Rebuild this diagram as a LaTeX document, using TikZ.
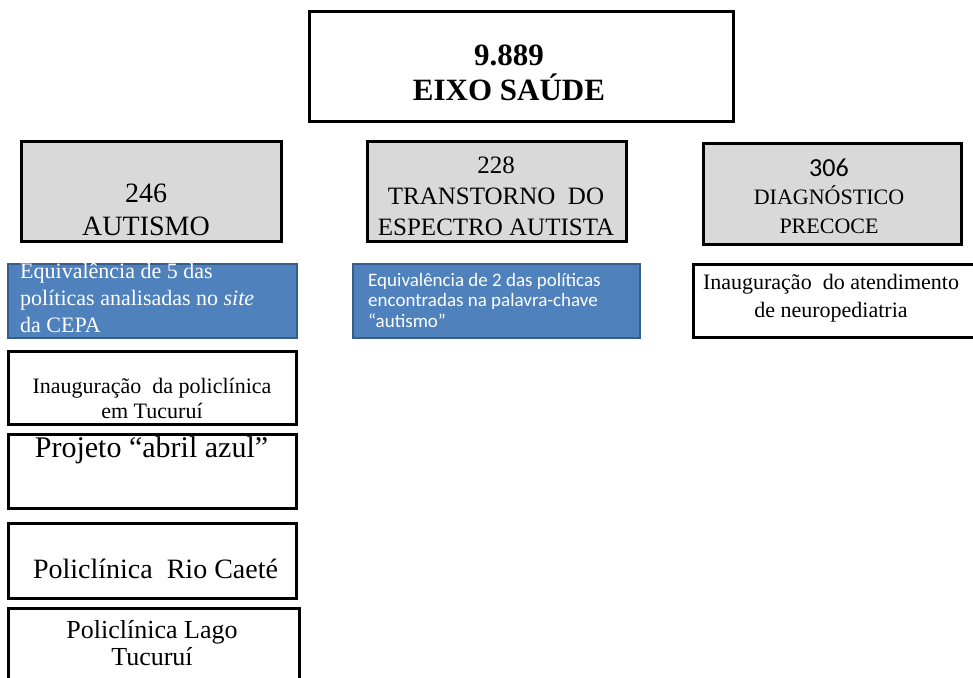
\documentclass[tikz,border=0pt]{standalone}
\usepackage{fontspec}
\setmainfont{Liberation Serif}
\newfontfamily\calibri{Carlito}
\usepackage{xcolor}
\usepackage{tikz}
\definecolor{azulfundo}{HTML}{4F81BD}
\definecolor{azulborda}{HTML}{385D8A}
\definecolor{cinza}{HTML}{D9D9D9}
\tikzstyle{caixa} = [draw=black,line width=2.8pt,fill=white,inner sep=0pt,anchor=north west]
\tikzstyle{caixacinza} = [caixa,fill=cinza]
\tikzstyle{caixaazul} = [caixa,draw=azulborda,line width=1.6pt,fill=azulfundo]
\tikzstyle{texto} = [anchor=base,align=center,inner sep=0pt]
\tikzstyle{textoazul} = [anchor=base west,align=left,inner sep=0pt,text=white]

\begin{document}
\begin{tikzpicture}[x=1pt,y=-1pt]
                \useasboundingbox (0,0) rectangle (973,677);
                \fill[white] (0,0) rectangle (973,677);
                \node[caixa,minimum width=424pt,minimum height=110pt] (eixo) at (308,10) {};
                \node[caixacinza,minimum width=260pt,minimum height=100pt] (autismo) at (20,140) {};
                \node[caixacinza,minimum width=259pt,minimum height=100pt] (tea) at (366,140) {};
                \node[caixacinza,minimum width=258pt,minimum height=101pt] (diag) at (702,142) {};
                \node[caixaazul,minimum width=289pt,minimum height=74pt] (equiv1) at (7,263) {};
                \node[caixaazul,minimum width=287pt,minimum height=74pt] (equiv2) at (352,263) {};
                \node[caixa,minimum width=290pt,minimum height=73pt] (neuro) at (692,263) {};
                \node[caixa,minimum width=288pt,minimum height=73pt] (inaug) at (7,350) {};
                \node[caixa,minimum width=288pt,minimum height=74pt] (abril) at (7,433) {};
                \node[caixa,minimum width=288pt,minimum height=75pt] (caete) at (7,522) {};
                \node[caixa,minimum width=291pt,minimum height=80pt] (lago) at (7,607) {};
                \node[texto,font=\fontsize{31}{35}\selectfont\bfseries] (t-eixo) at (509,100) {9.889\\EIXO SAÚDE};
                \node[texto,font=\fontsize{28}{33}\selectfont] (t-autismo) at (146,235) {246\\AUTISMO};
                \node[texto,font=\fontsize{25}{31}\selectfont] (t-tea) at (496,235) {228\\TRANSTORNO\ \ DO\\ESPECTRO AUTISTA};
                \node[texto,font=\fontsize{22}{28.5}\selectfont] (t-diag) at (829,233) {{\calibri\fontsize{26}{28.5}\selectfont 306}\\DIAGNÓSTICO\\PRECOCE};
                \node[textoazul,font=\fontsize{22}{27}\selectfont] (t-equiv1) at (20,332) {Equivalência de 5 das\\políticas analisadas no \textit{site}\\da CEPA};
                \node[textoazul,font=\calibri\fontsize{19}{20.3}\selectfont] (t-equiv2) at (368,327) {Equivalência de 2 das políticas\\encontradas na palavra-chave\\“autismo”};
                \node[texto,font=\fontsize{22}{28}\selectfont] (t-neuro) at (831,317) {Inauguração\ \ do atendimento\\de neuropediatria};
                \node[texto,font=\fontsize{22}{25}\selectfont] (t-inaug) at (152,418) {Inauguração\ \ da policlínica\\em Tucuruí};
                \node[texto,font=\fontsize{30}{34}\selectfont] (t-abril) at (151.5,457) {Projeto “abril azul”};
                \node[texto,font=\fontsize{28}{32}\selectfont] (t-caete) at (155.5,578) {Policlínica\ \ Rio Caeté};
                \node[texto,font=\fontsize{26}{27}\selectfont] (t-lago) at (152,665) {Policlínica Lago\\Tucuruí};
\end{tikzpicture}
\end{document}
